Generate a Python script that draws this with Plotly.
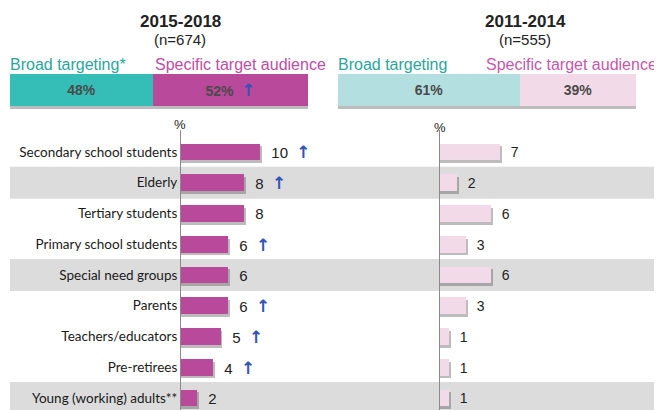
import plotly.graph_objects as go

# Data
categories = [
    "Secondary school students", "Elderly", "Tertiary students",
    "Primary school students", "Special need groups", "Parents",
    "Teachers/educators", "Pre-retirees", "Young (working) adults**",
]
pct_2015 = [10, 8, 8, 6, 6, 6, 5, 4, 2]
pct_2011 = [7, 2, 6, 3, 6, 3, 1, 1, 1]
up_2015 = [True, True, False, True, False, True, True, True, False]
shaded_rows = [1, 4, 8]

split_labels = ["Broad targeting", "Specific target audience"]
split_2015 = [48, 52]
split_2011 = [61, 39]
up_split_2015 = [False, True]

# page body has an 8px margin, so the figure is drawn 8px in from the corner
PAGE_W, PAGE_H, OFF = 662, 410, 8
W, H = PAGE_W - OFF, PAGE_H - OFF

TEAL = "#35BEB7"
MAGENTA = "#B9499B"
LIGHT_TEAL = "#B3DFE1"
LIGHT_PINK = "#F2DAE8"
ARROW = "#3552B5"
SHADOW = "rgba(80,80,80,0.38)"
ARROW_HTML = (f"<span style='color:{ARROW};font-family:DejaVu Sans;"
              f"font-weight:bold;font-size:17px'>↑</span>")
NB = "\u00a0"


def px_x(p):
    return (p - OFF) / W


def px_y(p):
    return (PAGE_H - p) / H


fig = go.Figure()

rows = list(range(len(categories)))
bar_w = 0.55


def add_split(vals, colors, ups, xa, ya):
    bases = [0, vals[0]]
    fig.add_trace(go.Bar(
        x=[sum(vals) + 0.6], y=[0], base=[0], orientation="h",
        offset=-0.42, width=1, marker=dict(color=SHADOW, line=dict(width=0)),
        xaxis=xa, yaxis=ya, hoverinfo="skip", showlegend=False,
    ))
    texts = [f"<b>{v}%</b>" + (NB * 2 + ARROW_HTML if u else "") for v, u in zip(vals, ups)]
    fig.add_trace(go.Bar(
        x=vals, y=[0, 0], base=bases, orientation="h",
        offset=-0.5, width=1,
        marker=dict(color=colors, line=dict(width=0)),
        text=texts, textposition="inside", insidetextanchor="middle",
        constraintext="none",
        textfont=dict(family="Liberation Sans, Arial", size=14, color="#4a4a4a"),
        xaxis=xa, yaxis=ya, hoverinfo="skip", showlegend=False,
    ))


add_split(split_2015, [TEAL, MAGENTA], up_split_2015, "x", "y")
add_split(split_2011, [LIGHT_TEAL, LIGHT_PINK], [False, False], "x2", "y2")


def add_rows(vals, ups, color, xa, ya, size):
    fig.add_trace(go.Bar(
        x=[v + 0.25 for v in vals], y=rows, orientation="h",
        offset=-bar_w / 2 + 0.09, width=bar_w,
        marker=dict(color=SHADOW, line=dict(width=0)),
        xaxis=xa, yaxis=ya, hoverinfo="skip", showlegend=False,
    ))
    texts = [NB * 2 + str(v) + (NB * 2 + ARROW_HTML if u else "") for v, u in zip(vals, ups)]
    fig.add_trace(go.Bar(
        x=vals, y=rows, orientation="h",
        offset=-bar_w / 2, width=bar_w,
        marker=dict(color=color, line=dict(width=0)),
        text=texts, textposition="outside", cliponaxis=False,
        constraintext="none",
        textfont=dict(family="Liberation Sans, Arial", size=size, color="#222222"),
        xaxis=xa, yaxis=ya, hoverinfo="skip", showlegend=False,
    ))


add_rows(pct_2015, up_2015, MAGENTA, "x3", "y3", 15)
add_rows(pct_2011, [False] * len(pct_2011), LIGHT_PINK, "x4", "y4", 14)

# Grey row bands
shapes = []
for r in shaded_rows:
    shapes.append(dict(
        type="rect", xref="paper", yref="y3", x0=px_x(10), x1=1,
        y0=r - 0.52, y1=r + 0.52, fillcolor="#DCDCDC", line=dict(width=0),
        layer="below",
    ))

y_top = (130 - 152) / 30.75
y_bot = (PAGE_H - 152) / 30.75
top_range = [36 / 32 - 0.5, -0.5]

hidden = dict(visible=False, fixedrange=True)
fig.update_layout(
    width=W, height=H,
    margin=dict(l=0, r=0, t=0, b=0),
    paper_bgcolor="white", plot_bgcolor="rgba(0,0,0,0)",
    barmode="overlay", bargap=0,
    font=dict(family="Liberation Sans, Arial", color="#222222"),
    shapes=shapes,
    xaxis=dict(domain=[px_x(10), px_x(308)], range=[0, 100], anchor="y", **hidden),
    yaxis=dict(domain=[px_y(110), px_y(74)], range=top_range, anchor="x", **hidden),
    xaxis2=dict(domain=[px_x(338), px_x(636)], range=[0, 100], anchor="y2", **hidden),
    yaxis2=dict(domain=[px_y(110), px_y(74)], range=top_range, anchor="x2", **hidden),
    xaxis3=dict(domain=[px_x(181), px_x(330)], range=[0, 149 / 7.9], anchor="y3", **hidden),
    yaxis3=dict(
        domain=[0, px_y(130)], range=[y_bot, y_top], anchor="x3",
        tickvals=rows, ticktext=categories, ticks="", showgrid=False,
        zeroline=False, showline=True, linecolor="#8a8a8a", linewidth=1,
        tickfont=dict(family="Lato", size=13.5, color="#1a1a1a"),
        fixedrange=True,
    ),
    xaxis4=dict(domain=[px_x(440), 1], range=[0, 214 / 8.2], anchor="y4", **hidden),
    yaxis4=dict(
        domain=[0, px_y(130)], range=[y_bot, y_top], anchor="x4",
        showticklabels=False, ticks="", showgrid=False, zeroline=False,
        showline=True, linecolor="#8a8a8a", linewidth=1, fixedrange=True,
    ),
)

ann = [
    dict(text="<b>2015-2018</b>", x=px_x(180), y=px_y(21), font=dict(size=17)),
    dict(text="(n=674)", x=px_x(180), y=px_y(39), font=dict(size=15)),
    dict(text="<b>2011-2014</b>", x=px_x(525), y=px_y(21), font=dict(size=17)),
    dict(text="(n=555)", x=px_x(525), y=px_y(39), font=dict(size=15)),
    dict(text=split_labels[0] + "*", x=px_x(8), y=px_y(64), xanchor="left",
         font=dict(size=16, color="#2AA59D")),
    dict(text=split_labels[1], x=px_x(153), y=px_y(64), xanchor="left",
         font=dict(size=16, color="#C04CA5")),
    dict(text=split_labels[0], x=px_x(336), y=px_y(64), xanchor="left",
         font=dict(size=16, color="#2AA59D")),
    dict(text=split_labels[1], x=px_x(484), y=px_y(64), xanchor="left",
         font=dict(size=16, color="#C857AA")),
    dict(text="%", x=px_x(180), y=px_y(124), font=dict(size=13)),
    dict(text="%", x=px_x(440), y=px_y(128), font=dict(size=13)),
]
for a in ann:
    a.setdefault("xanchor", "center")
    fig.add_annotation(xref="paper", yref="paper", showarrow=False,
                       yanchor="middle", **a)

fig.write_html("out.html")
